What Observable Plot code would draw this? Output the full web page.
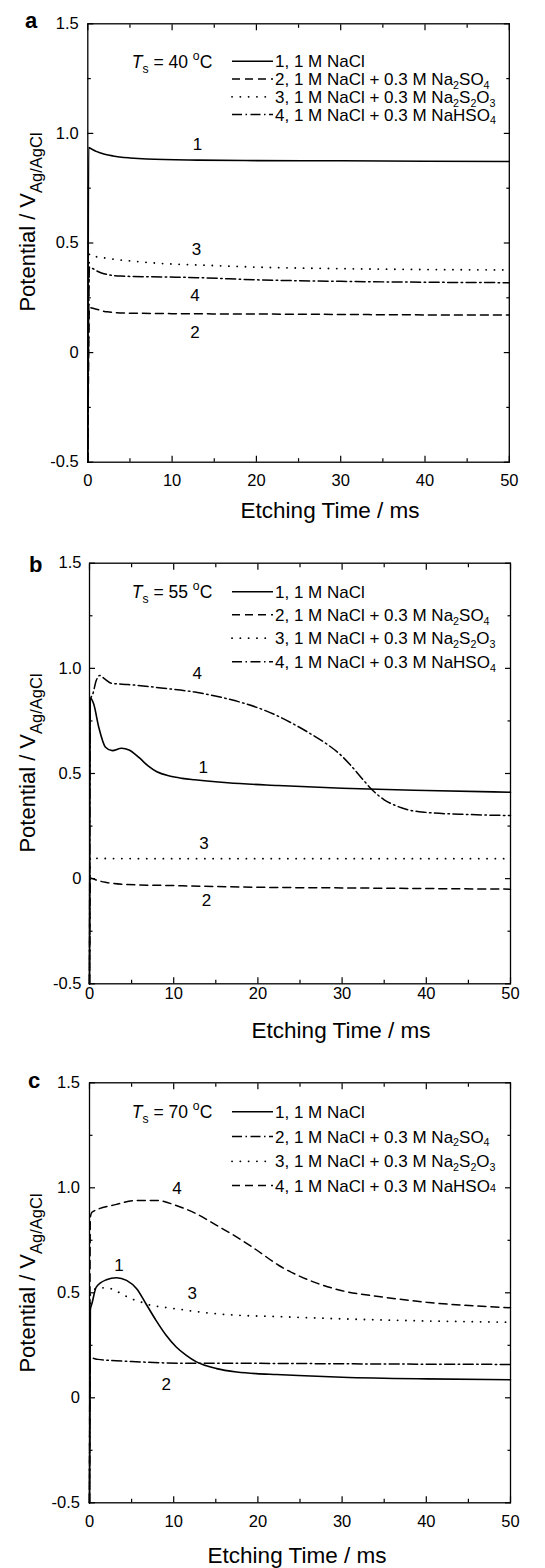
<!DOCTYPE html>
<html><head><meta charset="utf-8">
<script src="https://cdn.jsdelivr.net/npm/d3@7"></script>
<script src="https://cdn.jsdelivr.net/npm/@observablehq/plot@0.6"></script>
<style>
html,body{margin:0;padding:0;background:#fff;}
#wrap{position:relative;width:545px;height:1568px;overflow:hidden;background:#fff;}
#wrap svg{position:absolute;left:0;background:transparent;}
</style></head><body><div id="wrap"></div>
<script>
// ---------- data ----------
const xMajor = [0, 10, 20, 30, 40, 50];
const xMinor = [5, 15, 25, 35, 45];
const yMajor = [-0.5, 0, 0.5, 1.0, 1.5];
const yMinor = [-0.25, 0.25, 0.75, 1.25];

const legendLabels = [
  "1, 1 M NaCl",
  "2, 1 M NaCl + 0.3 M Na_{2}SO_{4}",
  "3, 1 M NaCl + 0.3 M Na_{2}S_{2}O_{3}",
  "4, 1 M NaCl + 0.3 M NaHSO_{4}"
];
const legendLabelsC = [
  "1, 1 M NaCl",
  "2, 1 M NaCl + 0.3 M Na_{2}SO_{4}",
  "3, 1 M NaCl + 0.3 M Na_{2}S_{2}O_{3}",
  "4, 1 M NaCl + 0.3 M NaHSO~{4}"
];
const curveNames = ["1", "2", "3", "4"];

// panel a, Ts = 40 C
const aT1 = [0, 0.1, 0.5, 1, 2, 3, 5, 7, 13, 20, 30, 40, 50];
const aV1 = [-0.5, 0.935, 0.928, 0.918, 0.905, 0.897, 0.888, 0.883, 0.878, 0.876, 0.875, 0.873, 0.872];
const aT2 = [0, 0.2, 0.8, 2.3, 5, 13, 20, 30, 40, 50];
const aV2 = [-0.5, 0.205, 0.2, 0.186, 0.18, 0.177, 0.176, 0.174, 0.172, 0.171];
const aT3 = [0, 0.2, 0.7, 2.3, 5, 9, 13, 20, 30, 40, 50];
const aV3 = [-0.5, 0.45, 0.441, 0.43, 0.418, 0.406, 0.40, 0.39, 0.383, 0.379, 0.377];
const aT4 = [0, 0.2, 0.5, 1.2, 1.9, 3.9, 9, 13, 20, 30, 40, 50];
const aV4 = [-0.5, 0.39, 0.385, 0.37, 0.36, 0.349, 0.345, 0.342, 0.332, 0.325, 0.321, 0.319];
const aLabT = [13, 12.7, 12.9, 12.7];
const aLabV = [0.95, 0.093, 0.47, 0.26];

// panel b, Ts = 55 C
const bT1 = [0, 0.1, 0.5, 1.1, 1.9, 2.7, 3.8, 4.7, 5.9, 7.0, 8.0, 9.5, 11, 12.5, 16.4, 22.4, 30, 40, 50];
const bV1 = [-0.5, 0.86, 0.83, 0.72, 0.625, 0.609, 0.62, 0.612, 0.575, 0.535, 0.508, 0.488, 0.477, 0.47, 0.456, 0.443, 0.43, 0.419, 0.411];
const bT2 = [0, 0.1, 0.5, 1, 2, 4.5, 10, 20, 30, 40, 50];
const bV2 = [-0.5, 0.003, -0.002, -0.009, -0.018, -0.028, -0.033, -0.041, -0.044, -0.047, -0.05];
const bT3 = [0, 0.1, 1, 10, 20, 30, 40, 50];
const bV3 = [-0.5, 0.1, 0.096, 0.095, 0.095, 0.095, 0.095, 0.095];
const bT4 = [0, 0.1, 0.4, 0.8, 1.2, 1.8, 2.6, 4.6, 8.5, 12.5, 16.4, 20.5, 22, 24, 26, 28, 29.5, 31, 32.5, 33.5, 35, 36.5, 38, 40, 45, 50];
const bV4 = [-0.5, 0.85, 0.879, 0.942, 0.966, 0.95, 0.929, 0.923, 0.907, 0.887, 0.855, 0.805, 0.78, 0.74, 0.695, 0.645, 0.6, 0.54, 0.47, 0.425, 0.375, 0.345, 0.326, 0.315, 0.305, 0.300];
const bLabT = [13.5, 13.9, 13.6, 12.8];
const bLabV = [0.53, -0.104, 0.166, 0.974];

// panel c, Ts = 70 C
const cT1 = [0, 0.1, 0.3, 0.8, 2.0, 3.2, 4.4, 5.6, 6.7, 7.9, 9.1, 10.3, 11.5, 12.7, 15.1, 17.5, 19.8, 22.2, 30, 40, 50];
const cV1 = [-0.5, 0.42, 0.45, 0.527, 0.562, 0.572, 0.559, 0.519, 0.448, 0.369, 0.298, 0.242, 0.202, 0.171, 0.139, 0.123, 0.115, 0.111, 0.098, 0.090, 0.086];
const cT2 = [0, 0.1, 1, 5, 10.5, 20, 30, 40, 50];
const cV2 = [-0.5, 0.19, 0.183, 0.173, 0.165, 0.164, 0.162, 0.16, 0.159];
const cT3 = [0, 0.1, 0.3, 1.4, 2.6, 3.8, 5.0, 6.2, 7.3, 8.7, 11.1, 14.3, 18.2, 22.2, 30, 40, 50];
const cV3 = [-0.5, 0.49, 0.511, 0.524, 0.519, 0.495, 0.471, 0.455, 0.44, 0.432, 0.419, 0.403, 0.392, 0.387, 0.376, 0.366, 0.36];
const cT4 = [0, 0.1, 0.3, 3.2, 5.6, 7.9, 10.3, 12.7, 15.1, 17.5, 19.8, 22.5, 25, 27, 30, 35, 40, 50];
const cV4 = [-0.5, 0.86, 0.884, 0.921, 0.94, 0.94, 0.916, 0.876, 0.821, 0.765, 0.705, 0.63, 0.578, 0.546, 0.51, 0.479, 0.455, 0.429];
const cLabT = [3.5, 9.1, 12.2, 10.4];
const cLabV = [0.63, 0.062, 0.495, 0.995];

// ---------- styles & layout ----------
const FONT = "'Liberation Sans', Arial, Helvetica, sans-serif";
const styles = {
  solid: {strokeWidth: 1.6},
  dashed: {strokeWidth: 1.5, strokeDasharray: "8,5"},
  dotted: {strokeWidth: 1.8, strokeDasharray: "0.1,8.2", strokeLinecap: "round"},
  dashdot: {strokeWidth: 1.5, strokeDasharray: "10,3.5,1.5,3.5"}
};
const zip = (t, v) => t.map((d, i) => ({t: d, v: v[i]}));

const panels = [
  {letter: "a", temp: "40", top: 0, height: 531, mt: 23.3, mb: 69.3, ml: 87.3, mr: 36.2,
   series: [[aT1, aV1], [aT2, aV2], [aT3, aV3], [aT4, aV4]],
   lstyles: ["solid", "dashed", "dotted", "dashdot"], labels: [aLabT, aLabV], leg: legendLabels,
   rows: [61.2, 79, 96.8, 114.6], tsY: 61.7, letterXY: [25, 28], yLabY: 222,
   xTitle: [330, 510], xPad: 12, yPad: 9},
  {letter: "b", temp: "55", top: 531, height: 510, mt: 31.7, mb: 57.7, ml: 89, mr: 35,
   series: [[bT1, bV1], [bT2, bV2], [bT3, bV3], [bT4, bV4]],
   lstyles: ["solid", "dashed", "dotted", "dashdot"], labels: [bLabT, bLabV], leg: legendLabels,
   rows: [60.7, 83.7, 107.2, 130.7], tsY: 60.7, letterXY: [29, 40.7], yLabY: 232,
   xTitle: [341, 499], xPad: 3.5, yPad: 8},
  {letter: "c", temp: "70", top: 1041, height: 527, mt: 41.3, mb: 65.7, ml: 89, mr: 35,
   series: [[cT1, cV1], [cT2, cV2], [cT3, cV3], [cT4, cV4]],
   lstyles: ["solid", "dashdot", "dotted", "dashed"], labels: [cLabT, cLabV], leg: legendLabelsC,
   rows: [70.7, 95.5, 120.3, 144.5], tsY: 70.7, letterXY: [28, 47.3], yLabY: 242,
   xTitle: [297, 513.5], xPad: 12, yPad: 9.5}
];

function rich(sel, str, size, subScale = 0.68, subShift = 0.3) {
  const re = /([_^*~])\{([^}]*)\}/g;
  let last = 0, m, offset = 0;
  const parts = [];
  while ((m = re.exec(str))) {
    if (m.index > last) parts.push(["", str.slice(last, m.index)]);
    parts.push([m[1], m[2]]);
    last = re.lastIndex;
  }
  if (last < str.length) parts.push(["", str.slice(last)]);
  for (const [kind, s] of parts) {
    let target = 0, fs = size, italic = false;
    if (kind === "_") { target = size * subShift; fs = size * subScale; }
    else if (kind === "^") { target = -size * 0.45; fs = size * subScale; }
    else if (kind === "~") { fs = size * subScale; }
    else if (kind === "*") italic = true;
    const ts = sel.append("tspan").text(s).attr("font-size", fs);
    const dy = target - offset;
    if (dy) ts.attr("dy", dy);
    offset = target;
    if (italic) ts.attr("font-style", "italic");
  }
}

const wrap = document.getElementById("wrap");
const fmtY = d => d === 0 ? "0" : d.toFixed(1);
const blank = () => "";

for (const p of panels) {
  const marks = [];
  p.series.forEach(([t, v], i) => {
    marks.push(Plot.line(zip(t, v), {x: "t", y: "v", stroke: "black", curve: "monotone-x", ...styles[p.lstyles[i]]}));
  });
  marks.push(Plot.text(curveNames.map((n, i) => ({n, t: p.labels[0][i], v: p.labels[1][i]})),
    {x: "t", y: "v", text: "n", fontSize: 17, fill: "black"}));
  marks.push(Plot.frame({stroke: "black", strokeWidth: 1.3}));
  const tk = {stroke: "black", strokeWidth: 1.2, label: null};
  marks.push(Plot.axisX(xMajor, {...tk, anchor: "bottom", tickSize: -6, tickPadding: 6 + p.xPad, fontSize: 16.5, tickFormat: d => String(d)}));
  marks.push(Plot.axisX(xMinor, {...tk, anchor: "bottom", tickSize: -3.5, tickFormat: blank}));
  marks.push(Plot.axisX(xMajor, {...tk, anchor: "top", tickSize: -6, tickFormat: blank}));
  marks.push(Plot.axisX(xMinor, {...tk, anchor: "top", tickSize: -3.5, tickFormat: blank}));
  marks.push(Plot.axisY(yMajor, {...tk, anchor: "left", tickSize: -6, tickPadding: 6 + p.yPad, fontSize: 16.5, tickFormat: fmtY}));
  marks.push(Plot.axisY(yMinor, {...tk, anchor: "left", tickSize: -3.5, tickFormat: blank}));
  marks.push(Plot.axisY(yMajor, {...tk, anchor: "right", tickSize: -6, tickFormat: blank}));
  marks.push(Plot.axisY(yMinor, {...tk, anchor: "right", tickSize: -3.5, tickFormat: blank}));

  const svg = Plot.plot({
    width: 545, height: p.height,
    marginTop: p.mt, marginBottom: p.mb, marginLeft: p.ml, marginRight: p.mr,
    style: {fontFamily: FONT, color: "black", background: "transparent", overflow: "visible"},
    x: {domain: [0, 50]},
    y: {domain: [-0.5, 1.5]},
    marks
  });
  svg.style.top = p.top + "px";
  wrap.appendChild(svg);

  const s = d3.select(svg);
  const g = s.append("g").attr("font-family", FONT).attr("fill", "black").attr("text-anchor", "start");
  // panel letter
  g.append("text").attr("x", p.letterXY[0]).attr("y", p.letterXY[1])
    .attr("font-size", 22).attr("font-weight", "bold").text(p.letter);
  // y label
  const yl = g.append("text").attr("transform", `translate(35,${p.yLabY}) rotate(-90)`)
    .attr("text-anchor", "middle");
  rich(yl, "Potential / V_{Ag/AgCl}", 22, 0.75);
  // x title
  g.append("text").attr("x", p.xTitle[0]).attr("y", p.xTitle[1] + 8).attr("text-anchor", "middle")
    .attr("font-size", 22.5).text("Etching Time / ms");
  // temperature annotation
  const ts = g.append("text").attr("x", 131.7).attr("y", p.tsY + 6.3);
  rich(ts, `*{T}_{s} = ${p.temp} ^{o}C`, 17.5, 0.7);
  // legend
  p.rows.forEach((ry, i) => {
    const st = styles[p.lstyles[i]];
    g.append("line").attr("x1", 232).attr("x2", 273).attr("y1", ry).attr("y2", ry)
      .attr("stroke", "black").attr("stroke-width", st.strokeWidth)
      .attr("stroke-dasharray", st.strokeDasharray || null)
      .attr("stroke-linecap", st.strokeLinecap || null);
    const t = g.append("text").attr("x", 275).attr("y", ry + 6.1);
    rich(t, p.leg[i], 17, 0.63, 0.22);
  });
}
</script></body></html>
